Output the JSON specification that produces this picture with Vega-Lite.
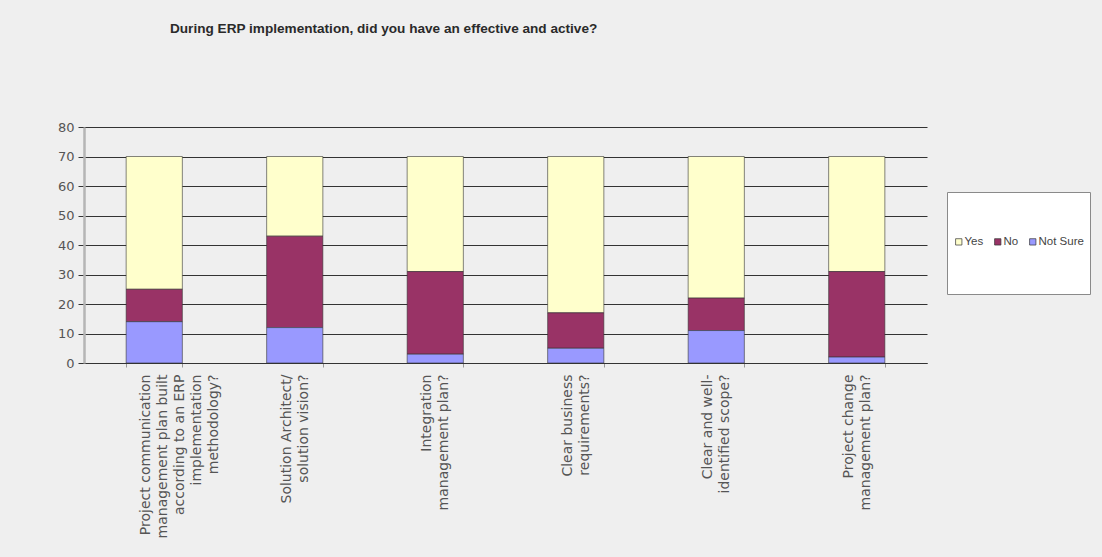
{
  "$schema": "https://vega.github.io/schema/vega-lite/v6.json",
  "width": 843,
  "height": 236,
  "autosize": {"type": "none"},
  "padding": {"left": 84, "top": 127, "right": 175, "bottom": 194},
  "background": "#efefef",
  "title": {
    "text": "During ERP implementation, did you have an effective and active?",
    "anchor": "start",
    "frame": "group",
    "dx": 86,
    "offset": 85,
    "font": "Liberation Sans",
    "fontSize": 13.6,
    "fontWeight": "bold",
    "color": "#2a2a2a"
  },
  "data": {
    "values": [
      {"question": "Project communication\nmanagement plan built\naccording to an ERP\nimplementation\nmethodology?", "answer": "Yes", "respondents": 45},
      {"question": "Project communication\nmanagement plan built\naccording to an ERP\nimplementation\nmethodology?", "answer": "No", "respondents": 11},
      {"question": "Project communication\nmanagement plan built\naccording to an ERP\nimplementation\nmethodology?", "answer": "Not Sure", "respondents": 14},
      {"question": "Solution Architect/\nsolution vision?", "answer": "Yes", "respondents": 27},
      {"question": "Solution Architect/\nsolution vision?", "answer": "No", "respondents": 31},
      {"question": "Solution Architect/\nsolution vision?", "answer": "Not Sure", "respondents": 12},
      {"question": "Integration\nmanagement plan?", "answer": "Yes", "respondents": 39},
      {"question": "Integration\nmanagement plan?", "answer": "No", "respondents": 28},
      {"question": "Integration\nmanagement plan?", "answer": "Not Sure", "respondents": 3},
      {"question": "Clear business\nrequirements?", "answer": "Yes", "respondents": 53},
      {"question": "Clear business\nrequirements?", "answer": "No", "respondents": 12},
      {"question": "Clear business\nrequirements?", "answer": "Not Sure", "respondents": 5},
      {"question": "Clear and well-\nidentified scope?", "answer": "Yes", "respondents": 48},
      {"question": "Clear and well-\nidentified scope?", "answer": "No", "respondents": 11},
      {"question": "Clear and well-\nidentified scope?", "answer": "Not Sure", "respondents": 11},
      {"question": "Project change\nmanagement plan?", "answer": "Yes", "respondents": 39},
      {"question": "Project change\nmanagement plan?", "answer": "No", "respondents": 29},
      {"question": "Project change\nmanagement plan?", "answer": "Not Sure", "respondents": 2}
    ]
  },
  "transform": [
    {"calculate": "indexof(['Not Sure', 'No', 'Yes'], datum.answer)", "as": "stackRank"}
  ],
  "mark": {"type": "bar", "stroke": "#333333", "strokeWidth": 1, "strokeOpacity": 0.6},
  "encoding": {
    "x": {
      "field": "question",
      "type": "nominal",
      "sort": null,
      "scale": {"paddingInner": 0.6, "paddingOuter": 0.3},
      "axis": {
        "title": null,
        "labelAngle": 270,
        "labelAlign": "right",
        "labelBaseline": "middle",
        "labelExpr": "split(datum.label, '\\n')",
        "labelOffset": -8.5,
        "labelFont": "DejaVu Sans",
        "labelFontSize": 14,
        "labelLineHeight": 17,
        "labelColor": "#555555",
        "labelPadding": 7,
        "labelLimit": 0,
        "labelOverlap": false,
        "tickBand": "extent",
        "tickSize": 4,
        "tickColor": "#999999",
        "domainColor": "#333333",
        "domainWidth": 1,
        "grid": false
      }
    },
    "y": {
      "field": "respondents",
      "type": "quantitative",
      "stack": "zero",
      "scale": {"domain": [0, 80], "nice": false},
      "axis": {
        "title": null,
        "values": [0, 10, 20, 30, 40, 50, 60, 70, 80],
        "labelFont": "DejaVu Sans",
        "labelFontSize": 13,
        "labelColor": "#555555",
        "labelPadding": 4,
        "tickSize": 6,
        "tickColor": "#333333",
        "grid": true,
        "gridColor": "#333333",
        "gridWidth": 1,
        "gridOpacity": 1,
        "domainColor": "#b5b5b5",
        "domainWidth": 2.5
      }
    },
    "color": {
      "field": "answer",
      "type": "nominal",
      "scale": {"domain": ["Yes", "No", "Not Sure"], "range": ["#ffffcc", "#993366", "#9999ff"]},
      "legend": {
        "title": [" ", " ", " "],
        "titleFontSize": 11,
        "titleLineHeight": 13.5,
        "titlePadding": 0,
        "orient": "none",
        "legendX": 863,
        "legendY": 65,
        "direction": "horizontal",
        "fillColor": "#ffffff",
        "strokeColor": "#8a8a8a",
        "padding": 6,
        "symbolType": "square",
        "symbolSize": 40,
        "symbolStrokeColor": "#333333",
        "symbolStrokeWidth": 0.7,
        "symbolOpacity": 1,
        "labelFont": "Liberation Sans",
        "labelFontSize": 11.5,
        "labelColor": "#444444",
        "labelOffset": 0,
        "columnPadding": 8,
        "labelExpr": "[datum.label, '', '', '']"
      }
    },
    "order": {"field": "stackRank", "type": "quantitative"}
  },
  "config": {"view": {"stroke": null}}
}
